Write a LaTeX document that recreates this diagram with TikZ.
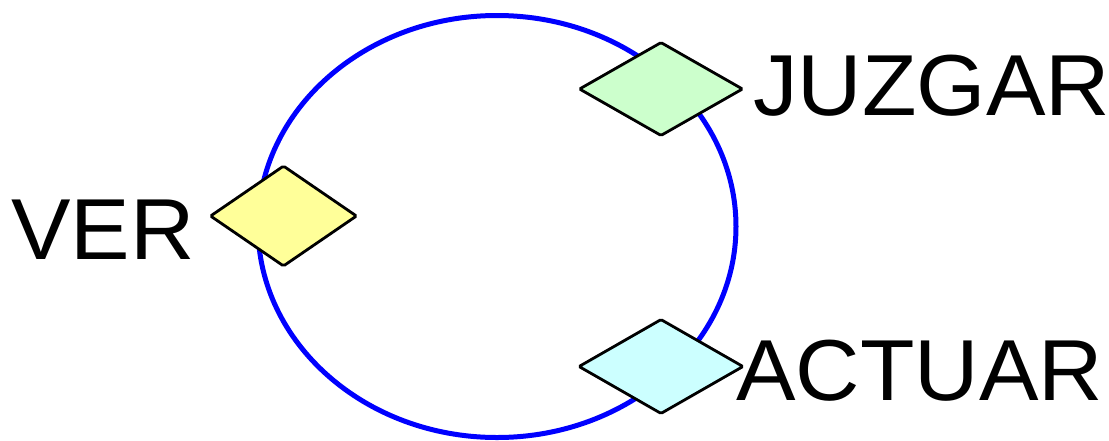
\documentclass[tikz,border=0pt]{standalone}
\usepackage{fontspec}
\setmainfont[FakeStretch=1.03]{Liberation Sans}
\usepackage{xcolor}
\usetikzlibrary{shapes.geometric,positioning}

\definecolor{verfill}{RGB}{255,255,153}
\definecolor{juzfill}{RGB}{204,255,204}
\definecolor{actfill}{RGB}{204,255,255}

\begin{document}
\begin{tikzpicture}[
  x=1pt,y=-1pt,
  ring/.style={draw=blue,line width=5pt},
  rombo/.style={draw,shape=diamond,line width=2.8pt,inner sep=0pt,rounded corners=1.5pt},
  etiq/.style={anchor=base west,inner sep=0pt,font=\fontsize{86.6}{90}\selectfont}
]
\useasboundingbox (0,0) rectangle (1109,440);
\draw[ring] (497,226.5) ellipse [x radius=239,y radius=211];
\node[rombo,fill=verfill,minimum width=147pt,minimum height=101pt] (ver) at (283.5,216) {};
\node[rombo,fill=juzfill,minimum width=164pt,minimum height=94pt] (juz) at (661,89) {};
\node[rombo,fill=actfill,minimum width=165pt,minimum height=95pt] (act) at (661,366.5) {};
\node[etiq] (tver) at (11,259) {VER};
\node[etiq] (tjuz) at (753,115) {JUZGAR};
\node[etiq] (tact) at (736,400) {ACTUAR};
\end{tikzpicture}
\end{document}
